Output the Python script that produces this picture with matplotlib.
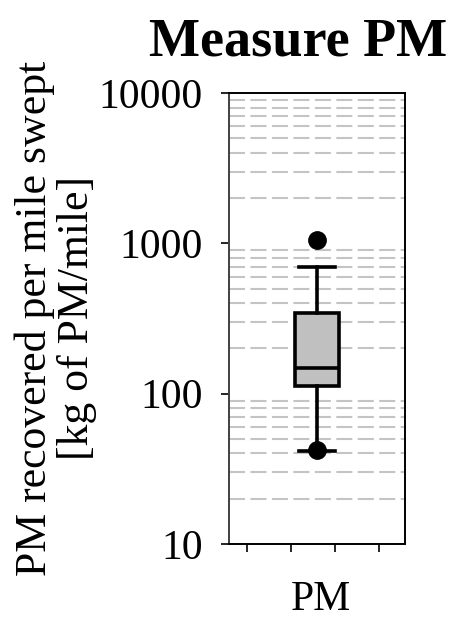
import matplotlib
matplotlib.use("Agg")
import matplotlib.pyplot as plt
import numpy as np
from matplotlib.ticker import LogLocator, NullFormatter, FixedLocator

# Box-plot summary for PM recovered per mile swept (kg of PM / mile)
category = "PM"
whisker_low = 41.5
q1 = 112
median = 148
q3 = 344
whisker_high = 695
outliers = [42, 1050]

y_ticks = [10, 100, 1000, 10000]
y_tick_labels = ["10", "100", "1000", "10000"]

plt.rcParams["font.family"] = ["Liberation Serif", "DejaVu Serif"]

W, H = 454, 621
fig = plt.figure(figsize=(W / 100, H / 100), dpi=100)
ax = fig.add_axes([229 / W, 1 - 544 / H, 176 / W, (544 - 93) / H])

stats = [dict(med=median, q1=q1, q3=q3, whislo=whisker_low,
              whishi=whisker_high, fliers=outliers, label=category)]
ax.bxp(stats, positions=[0.5], widths=0.25, patch_artist=True,
       boxprops=dict(facecolor="#c0c0c0", edgecolor="black", linewidth=2.6),
       medianprops=dict(color="black", linewidth=2.6),
       whiskerprops=dict(color="black", linewidth=2.6),
       capprops=dict(color="black", linewidth=2.6),
       capwidths=0.21,
       flierprops=dict(marker="o", markerfacecolor="black",
                       markeredgecolor="black", markersize=12.5),
       zorder=3)

ax.set_yscale("log")
ax.set_ylim(10, 10000)
ax.set_xlim(0, 1)
ax.set_yticks(y_ticks)
ax.set_yticklabels(y_tick_labels)
ax.yaxis.set_minor_locator(LogLocator(base=10, subs=np.arange(2, 10)))
ax.yaxis.set_minor_formatter(NullFormatter())
ax.tick_params(axis="y", which="minor", length=0)
ax.tick_params(axis="y", which="major", length=6, width=1.2, labelsize=30,
               pad=13, direction="out")
ax.grid(True, which="minor", axis="y", color="#c4c4c4",
        linestyle=(0, (7.7, 2.6)), linewidth=1.5, zorder=0)

ax.xaxis.set_major_locator(FixedLocator([0.102, 0.352, 0.602, 0.852]))
ax.set_xticklabels([])
ax.tick_params(axis="x", which="major", length=6, width=1.2, direction="out")

for side in ["left", "right", "top", "bottom"]:
    ax.spines[side].set_linewidth(1.4)
ax.spines["left"].set_color("#404040")

# category label under the axis
fig.text(321 / W, 1 - 610 / H, category, fontsize=30, ha="center",
         va="baseline")

fig.text(56 / W, 1 - 318 / H, "PM recovered per mile swept\n[kg of PM/mile]",
         fontsize=31.5, rotation=90, ha="center", va="center",
         multialignment="center", linespacing=1.08)

fig.text(298.5 / W, 1 - 55 / H, "Measure PM", fontsize=39, fontweight="bold",
         ha="center", va="baseline")

fig.savefig("out.png", dpi=100)
